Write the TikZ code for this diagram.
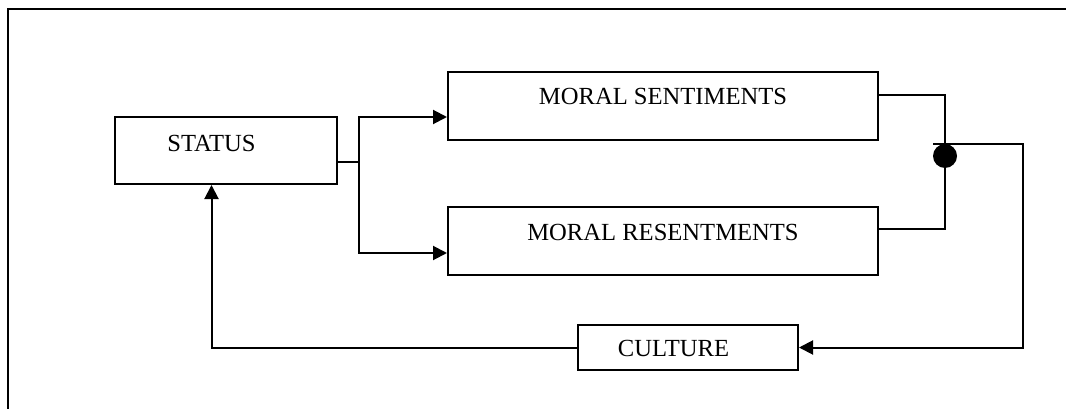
\documentclass[tikz,border=0pt]{standalone}
\usepackage{fontspec}
\setmainfont{Liberation Serif}
\usetikzlibrary{arrows.meta}
\begin{document}
\begin{tikzpicture}[x=1pt,y=-1pt,
  box/.style={draw, line width=2pt, inner sep=0pt},
  lbl/.style={anchor=base, inner sep=0pt, font=\fontsize{24.6}{29}\selectfont},
  wire/.style={line width=2pt},
  arr/.style={wire, -{Triangle[length=14pt,width=14pt]}}]
\useasboundingbox (0,0) rectangle (1066,409);
% page frame
\draw[line width=2pt] (8,409) -- (8,9.5) -- (1066,9.5);

% boxes
\node[box, minimum width=222pt, minimum height=67pt] (status) at (226,150.5) {};
\node[box, minimum width=430pt, minimum height=68pt] (ms) at (663,106) {};
\node[box, minimum width=430pt, minimum height=68pt] (mr) at (663,241) {};
\node[box, minimum width=220pt, minimum height=45pt] (culture) at (688,347.5) {};

% labels
\node[lbl] (statusT) at (211.5,152) {STATUS};
\node[lbl] (msT) at (663,105) {MORAL SENTIMENTS};
\node[lbl] (mrT) at (663,240) {MORAL RESENTMENTS};
\node[lbl] (cultureT) at (673.5,356) {CULTURE};

% fork from STATUS
\coordinate (fork) at (359,162);
\draw[wire] (status.east |- fork) -- (fork);
\draw[arr] (fork) |- ([yshift=-11pt]ms.west);
\draw[arr] (fork) |- ([yshift=-12pt]mr.west);

% join of the two sentiments
\coordinate (join) at (945,156);
\draw[wire] ([yshift=11pt]ms.east) -| (join) |- ([yshift=12pt]mr.east);

% feedback through CULTURE
\coordinate (tap) at (933,144);
\coordinate (corner) at (1023,144);
\draw[arr] (tap) -- (corner) |- (culture.east);
\draw[arr] (culture.west) -| (status.south -| statusT);

\node[circle, fill, inner sep=0pt, minimum size=24pt] (dot) at (join) {};
\end{tikzpicture}
\end{document}
